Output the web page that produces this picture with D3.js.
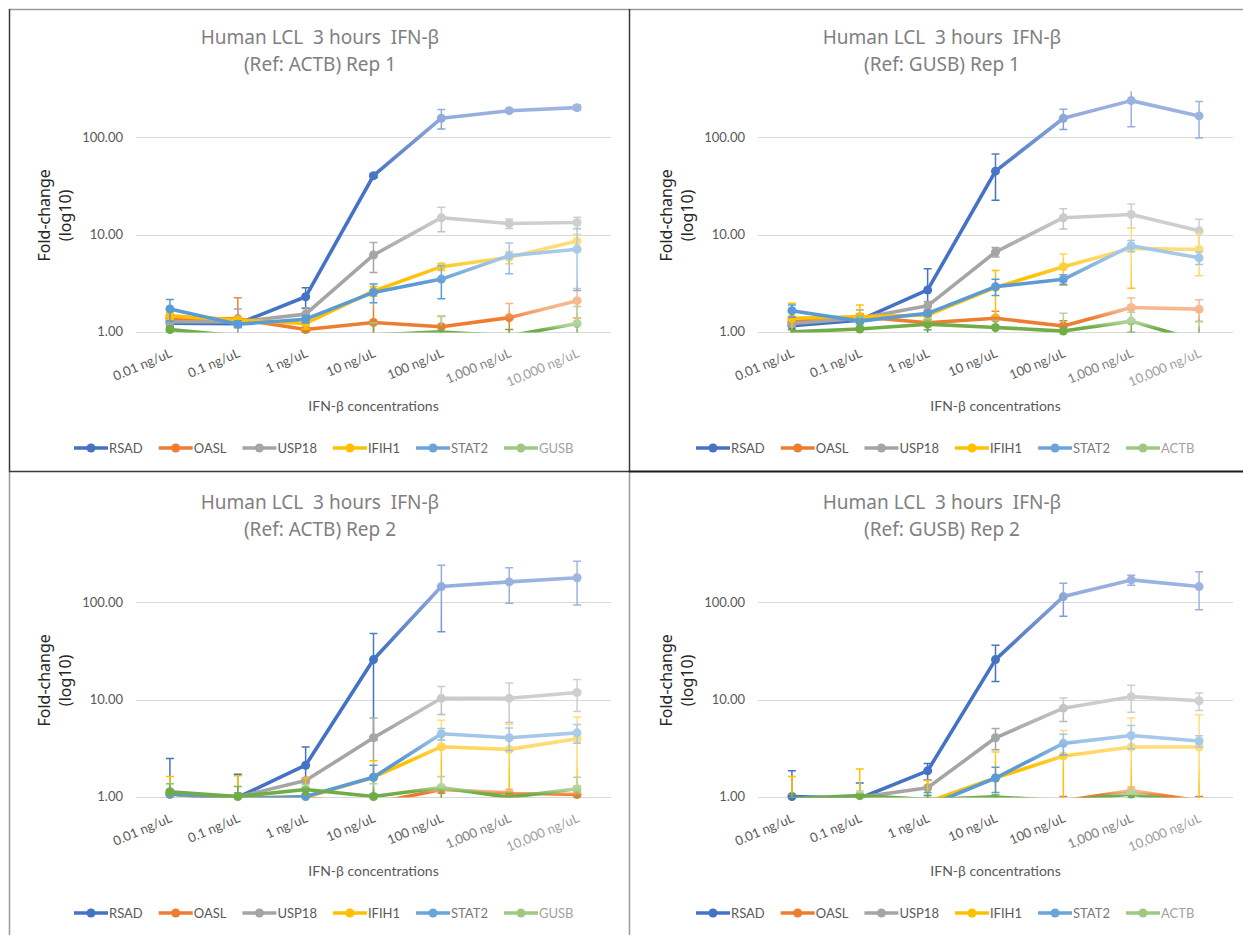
<!DOCTYPE html>
<html>
<head>
<meta charset="utf-8">
<script src="https://cdn.jsdelivr.net/npm/d3@7"></script>
<style>
  html, body { margin: 0; padding: 0; background: #ffffff; }
  svg { display: block; }
</style>
</head>
<body>
<svg id="chart" width="1243" height="935"></svg>
<script>
// Categories on the x axis
const concentrations = ["0.01 ng/uL", "0.1 ng/uL", "1 ng/uL", "10 ng/uL", "100 ng/uL", "1,000 ng/uL", "10,000 ng/uL"];
const targetGenes = ["RSAD", "OASL", "USP18", "IFIH1", "STAT2"];
const seriesColors = ["#4472C4", "#ED7D31", "#A5A5A5", "#FFC000", "#5B9BD5", "#70AD47"];
const yTickValues = [1, 10, 100];
const yTickLabels = ["1.00", "10.00", "100.00"];

// Fold-change means: rows RSAD, OASL, USP18, IFIH1, STAT2, other housekeeping gene
const actbRep1Mean = [
  [1.22, 1.20, 2.28, 40.4, 158, 189, 203],
  [1.37, 1.35, 1.05, 1.24, 1.12, 1.39, 2.08],
  [1.26, 1.26, 1.51, 6.15, 14.9, 13.0, 13.3],
  [1.45, 1.31, 1.21, 2.61, 4.66, 5.83, 8.56],
  [1.71, 1.19, 1.34, 2.53, 3.47, 6.05, 7.04],
  [1.05, 0.90, 0.88, 0.92, 0.99, 0.90, 1.21]
];
const actbRep1Sd = [
  [0.10, 0.08, 0.55, 2.0, 36, 6, 12],
  [0.10, 0.88, 0.05, 1.25, 0.32, 0.55, 0.70],
  [0.10, 0.45, 0.25, 2.1, 4.2, 1.45, 1.8],
  [0.12, 0.10, 0.15, 0.30, 0.40, 0.85, 1.5],
  [0.43, 0.10, 0.12, 0.55, 1.30, 2.1, 4.4],
  [0.05, 0.05, 0.10, 0.30, 0.44, 0.15, 0.60]
];

const gusbRep1Mean = [
  [1.15, 1.31, 2.68, 45, 158, 240, 167],
  [1.26, 1.42, 1.23, 1.37, 1.14, 1.77, 1.70],
  [1.21, 1.37, 1.84, 6.6, 14.9, 16.1, 10.9],
  [1.37, 1.42, 1.48, 2.85, 4.66, 7.2, 7.0],
  [1.64, 1.28, 1.54, 2.90, 3.45, 7.65, 5.75],
  [0.99, 1.06, 1.19, 1.10, 1.01, 1.28, 0.80]
];
const gusbRep1Sd = [
  [0.10, 0.10, 1.75, 22.5, 37, 111, 68],
  [0.10, 0.10, 0.10, 0.25, 0.15, 0.45, 0.43],
  [0.10, 0.30, 0.20, 0.75, 3.5, 4.5, 3.5],
  [0.58, 0.46, 0.20, 1.4, 1.65, 4.4, 3.25],
  [0.24, 0.15, 0.10, 0.55, 0.40, 1.0, 0.85],
  [0.05, 0.35, 0.15, 0.20, 0.53, 0.30, 0.47]
];

const actbRep2Mean = [
  [1.06, 0.98, 2.10, 25.8, 146, 163, 180],
  [1.06, 0.92, 0.96, 0.85, 1.18, 1.09, 1.05],
  [1.06, 0.99, 1.46, 4.03, 10.3, 10.3, 11.8],
  [1.06, 0.97, 0.98, 1.58, 3.26, 3.06, 3.94],
  [1.06, 0.95, 1.00, 1.58, 4.43, 4.03, 4.53],
  [1.12, 1.00, 1.18, 1.00, 1.24, 0.98, 1.20]
];
const actbRep2Sd = [
  [1.40, 0.72, 1.14, 22, 96, 65, 86],
  [0.10, 0.10, 0.10, 0.10, 0.10, 0.10, 0.08],
  [0.10, 0.10, 0.10, 2.4, 3.3, 4.5, 4.3],
  [0.55, 0.67, 0.57, 0.75, 2.84, 2.5, 2.66],
  [0.10, 0.10, 0.05, 0.52, 0.60, 1.05, 1.0],
  [0.23, 0.27, 0.15, 0.35, 0.37, 0.10, 0.38]
];

const gusbRep2Mean = [
  [1.00, 0.96, 1.84, 25.8, 115, 171, 146],
  [0.90, 0.88, 0.85, 0.80, 0.90, 1.15, 0.90],
  [0.92, 0.98, 1.23, 4.03, 8.14, 10.7, 9.7],
  [0.90, 0.85, 0.88, 1.55, 2.62, 3.24, 3.24],
  [0.85, 0.82, 0.80, 1.55, 3.53, 4.26, 3.73],
  [0.95, 1.02, 0.93, 0.99, 0.90, 1.06, 0.85]
];
const gusbRep2Sd = [
  [0.84, 0.42, 0.35, 10.5, 43, 20, 62],
  [0.05, 0.05, 0.05, 0.10, 0.10, 0.10, 0.10],
  [0.05, 0.10, 0.25, 1.0, 2.2, 3.3, 2.0],
  [0.71, 1.07, 0.58, 1.33, 2.17, 3.2, 3.73],
  [0.10, 0.10, 0.30, 0.45, 0.85, 1.15, 0.50],
  [0.10, 0.12, 0.10, 0.05, 0.05, 0.10, 0.05]
];

const panels = [
  { subtitle: "(Ref: ACTB) Rep 1", otherGene: "GUSB", mean: actbRep1Mean, sd: actbRep1Sd, col: 0, row: 0 },
  { subtitle: "(Ref: GUSB) Rep 1", otherGene: "ACTB", mean: gusbRep1Mean, sd: gusbRep1Sd, col: 1, row: 0 },
  { subtitle: "(Ref: ACTB) Rep 2", otherGene: "GUSB", mean: actbRep2Mean, sd: actbRep2Sd, col: 0, row: 1 },
  { subtitle: "(Ref: GUSB) Rep 2", otherGene: "ACTB", mean: gusbRep2Mean, sd: gusbRep2Sd, col: 1, row: 1 }
];

// ---- layout ----
const PANEL_DX = 622, PANEL_DY = 465;
const PLOT = { left: 136, right: 611, base: 331.5, decade: 97 };
const Y_MAX = 300;

const x = d3.scalePoint().domain(concentrations).range([PLOT.left, PLOT.right]).padding(0.5);
const y = d3.scaleLog().domain([1, Y_MAX]).range([PLOT.base, PLOT.base - PLOT.decade * Math.log10(Y_MAX)]);
const plotTop = y(Y_MAX);

const svg = d3.select("#chart");
const defs = svg.append("defs");

defs.append("clipPath").attr("id", "plot-clip")
  .append("rect")
  .attr("x", PLOT.left - 8).attr("y", plotTop)
  .attr("width", PLOT.right - PLOT.left + 16).attr("height", PLOT.base + 1 - plotTop);

const lighten = (c, k) => d3.interpolateRgb(c, "#ffffff")(k);
const clamp01 = t => Math.max(0, Math.min(1, t));
// text and legend fade toward the right side of each chart
const fadeT = xx => clamp01((xx - 400) / (585 - 400));
const textColor = xx => d3.interpolateRgb("#595959", "#b0b0b0")(fadeT(xx));

// ---- frame lines around the four charts ----
const frame = svg.append("g");
const frameLines = [
  [9, 9.5, 1243, 9.5, "#9a9a9a", 1.5],
  [9.5, 9, 9.5, 472, "#3a3a3a", 1.5],
  [9.5, 472, 9.5, 935, "#9a9a9a", 1.5],
  [629.5, 9, 629.5, 472, "#3a3a3a", 1.5],
  [629.5, 472, 629.5, 935, "#9a9a9a", 1.5],
  [9, 471.5, 629, 471.5, "#3a3a3a", 1.5],
  [629, 471.5, 1243, 471.5, "#1a1a1a", 2]
];
frame.selectAll("line").data(frameLines).join("line")
  .attr("x1", d => d[0]).attr("y1", d => d[1]).attr("x2", d => d[2]).attr("y2", d => d[3])
  .attr("stroke", d => d[4]).attr("stroke-width", d => d[5]);

panels.forEach((p, pi) => {
  const g = svg.append("g")
    .attr("transform", `translate(${p.col * PANEL_DX},${p.row * PANEL_DY})`);
  const names = targetGenes.concat([p.otherGene]);

  // title
  const title = g.append("text")
    .attr("x", 320).attr("text-anchor", "middle")
    .attr("font-family", "'Noto Sans', 'Open Sans', sans-serif")
    .attr("font-size", 19).attr("fill", "#808080")
    .style("white-space", "pre");
  title.append("tspan").attr("x", 320).attr("y", 44).text("Human LCL  3 hours  IFN-\u03B2");
  title.append("tspan").attr("x", 320).attr("y", 71).text(p.subtitle);

  // y-axis title
  const yMid = (PLOT.base + plotTop) / 2 + 4;
  g.append("text")
    .attr("transform", `translate(50,${yMid}) rotate(-90)`)
    .attr("text-anchor", "middle")
    .attr("font-family", "'Noto Sans', 'Open Sans', sans-serif")
    .attr("font-size", 16).attr("fill", "#262626")
    .text("Fold-change");
  g.append("text")
    .attr("transform", `translate(71,${yMid}) rotate(-90)`)
    .attr("text-anchor", "middle")
    .attr("font-family", "'Noto Sans', 'Open Sans', sans-serif")
    .attr("font-size", 16).attr("fill", "#262626")
    .text("(log10)");

  // gridlines and y tick labels
  g.append("g").selectAll("line").data(yTickValues).join("line")
    .attr("x1", PLOT.left).attr("x2", PLOT.right)
    .attr("y1", d => Math.round(y(d)) + 0.5).attr("y2", d => Math.round(y(d)) + 0.5)
    .attr("stroke", "#d9d9d9").attr("stroke-width", 1.2);
  g.append("g").selectAll("text").data(yTickValues).join("text")
    .attr("x", 123).attr("y", d => y(d)).attr("dy", "0.36em")
    .attr("text-anchor", "end")
    .attr("font-family", "Lato, 'Open Sans', sans-serif")
    .attr("font-size", 13).attr("fill", "#595959")
    .text((d, i) => yTickLabels[i]);

  // x tick labels, rotated
  g.append("g").selectAll("text").data(concentrations).join("text")
    .attr("transform", d => `translate(${x(d) + 3},${PLOT.base + 25}) rotate(-23)`)
    .attr("text-anchor", "end")
    .attr("font-family", "Lato, 'Open Sans', sans-serif")
    .attr("font-size", 13)
    .attr("fill", d => textColor(x(d) - 30))
    .text(d => d);

  // x-axis title
  g.append("text")
    .attr("x", (PLOT.left + PLOT.right) / 2).attr("y", 411)
    .attr("text-anchor", "middle")
    .attr("font-family", "Lato, 'Open Sans', sans-serif")
    .attr("font-size", 14).attr("fill", "#595959")
    .text("IFN-\u03B2 concentrations");

  // per-series gradient: full colour toward lower-left, paler toward upper-right
  names.forEach((name, si) => {
    const vals = p.mean[si].map(v => Math.max(1, Math.min(Y_MAX, v)));
    const x0 = x(concentrations[0]), x1 = x(concentrations[concentrations.length - 1]);
    const yT = y(d3.max(vals)), yB = y(d3.min(vals));
    const h = Math.max(1, yB - yT);
    const grad = defs.append("linearGradient")
      .attr("id", `grad-${pi}-${si}`)
      .attr("gradientUnits", "userSpaceOnUse")
      .attr("x1", 0).attr("y1", 1).attr("x2", 1).attr("y2", 0)
      .attr("gradientTransform", `translate(${x0},${yT}) scale(${x1 - x0},${h})`);
    const c = seriesColors[si];
    grad.append("stop").attr("offset", 0).attr("stop-color", c);
    grad.append("stop").attr("offset", 0.58).attr("stop-color", c);
    grad.append("stop").attr("offset", 0.82).attr("stop-color", lighten(c, 0.42));
    grad.append("stop").attr("offset", 1).attr("stop-color", lighten(c, 0.48));
  });

  const line = d3.line()
    .x((d, i) => x(concentrations[i]))
    .y(d => y(Math.max(d, 0.05)));

  const dataG = g.append("g");
  names.forEach((name, si) => {
    const paint = `url(#grad-${pi}-${si})`;
    const sg = dataG.append("g");
    const pts = p.mean[si].map((v, i) => ({ v, sd: p.sd[si][i], c: concentrations[i] }));

    // error bars
    const eb = sg.append("g").attr("clip-path", "url(#plot-clip)");
    pts.forEach(d => {
      const cx = x(d.c);
      const hi = y(d.v + d.sd);
      const lo = y(Math.max(d.v - d.sd, 0.05));
      eb.append("line").attr("x1", cx).attr("x2", cx).attr("y1", hi).attr("y2", lo)
        .attr("stroke", paint).attr("stroke-width", 1.5);
      [hi, lo].forEach(yy => {
        eb.append("line").attr("x1", cx - 4).attr("x2", cx + 4).attr("y1", yy).attr("y2", yy)
          .attr("stroke", paint).attr("stroke-width", 1.5);
      });
    });

    // series line
    sg.append("path")
      .attr("clip-path", "url(#plot-clip)")
      .attr("d", line(p.mean[si]))
      .attr("fill", "none")
      .attr("stroke", paint)
      .attr("stroke-width", 3.6)
      .attr("stroke-linejoin", "round")
      .attr("stroke-linecap", "round");

    // markers (only those inside the axis range)
    sg.selectAll("circle").data(pts.filter(d => d.v >= 0.995)).join("circle")
      .attr("cx", d => x(d.c)).attr("cy", d => y(d.v))
      .attr("r", 4.5)
      .attr("fill", paint);
  });

  // legend
  const lg = g.append("g").attr("transform", "translate(0,448)");
  let lx = 74;
  names.forEach((name, si) => {
    const c = seriesColors[si];
    const swatch = lighten(c, 0.5 * fadeT(lx + 17));
    lg.append("line").attr("x1", lx).attr("x2", lx + 34).attr("y1", 0).attr("y2", 0)
      .attr("stroke", swatch).attr("stroke-width", 3.6);
    lg.append("circle").attr("cx", lx + 17).attr("cy", 0).attr("r", 4.5).attr("fill", swatch);
    const t = lg.append("text")
      .attr("x", lx + 35).attr("y", 0).attr("dy", "0.36em")
      .attr("font-family", "Lato, 'Open Sans', sans-serif")
      .attr("font-size", 13)
      .text(name);
    const w = t.node().getComputedTextLength();
    t.attr("fill", textColor(lx + 35 + w / 2));
    lx += 35 + w + 16;
  });
});
</script>
</body>
</html>
